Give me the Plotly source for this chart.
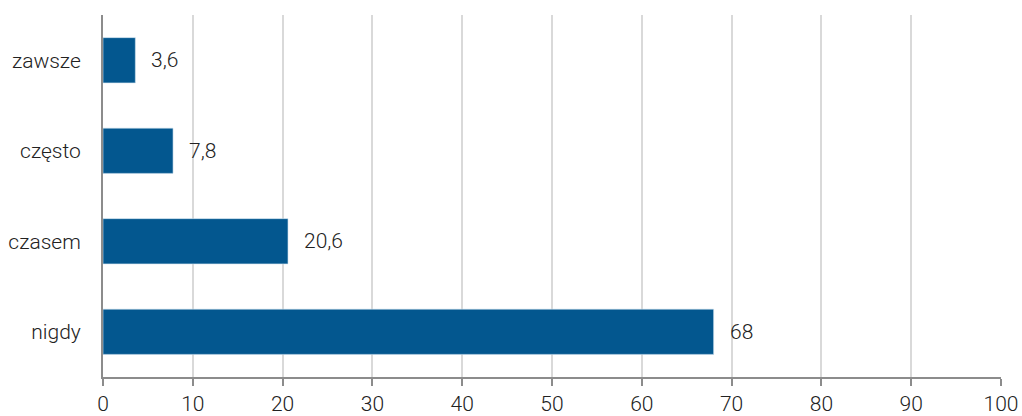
import plotly.graph_objects as go

categories = ["nigdy", "czasem", "często", "zawsze"]
values = [68, 20.6, 7.8, 3.6]
labels = ["68", "20,6", "7,8", "3,6"]
x_ticks = [0, 10, 20, 30, 40, 50, 60, 70, 80, 90, 100]

BAR = "#03578f"
FONT = dict(family="Roboto", size=21, color="#222222", weight=300)

fig = go.Figure()
fig.add_trace(go.Bar(
    y=categories, x=values, orientation="h",
    marker=dict(color=BAR, line=dict(color="#cfe0ee", width=0.6)),
    width=0.5, hoverinfo="skip",
))
for c, v, t in zip(categories, values, labels):
    fig.add_annotation(x=v, y=c, text=t, showarrow=False, xanchor="left",
                       xshift=14, font=FONT)

fig.update_layout(
    width=1022, height=416,
    margin=dict(l=103, r=21, t=15, b=39, autoexpand=False),
    paper_bgcolor="white", plot_bgcolor="white",
    font=FONT, showlegend=False,
    xaxis=dict(range=[0, 100], tickvals=x_ticks, showgrid=True,
               gridcolor="#d9d9d9", gridwidth=2, zeroline=False,
               showline=True, linecolor="#8c8c8c", linewidth=2,
               ticks="outside", ticklen=7, tickwidth=2, tickcolor="#8c8c8c",
               tickfont=FONT, fixedrange=True, automargin=False),
    yaxis=dict(categoryorder="array", categoryarray=categories,
               showline=True, linecolor="#8c8c8c", linewidth=2,
               showgrid=False, zeroline=False, ticks="",
               ticklabelstandoff=16, tickfont=FONT, fixedrange=True,
               range=[-0.5, 3.5], automargin=False),
)
fig.write_html("out.html")
